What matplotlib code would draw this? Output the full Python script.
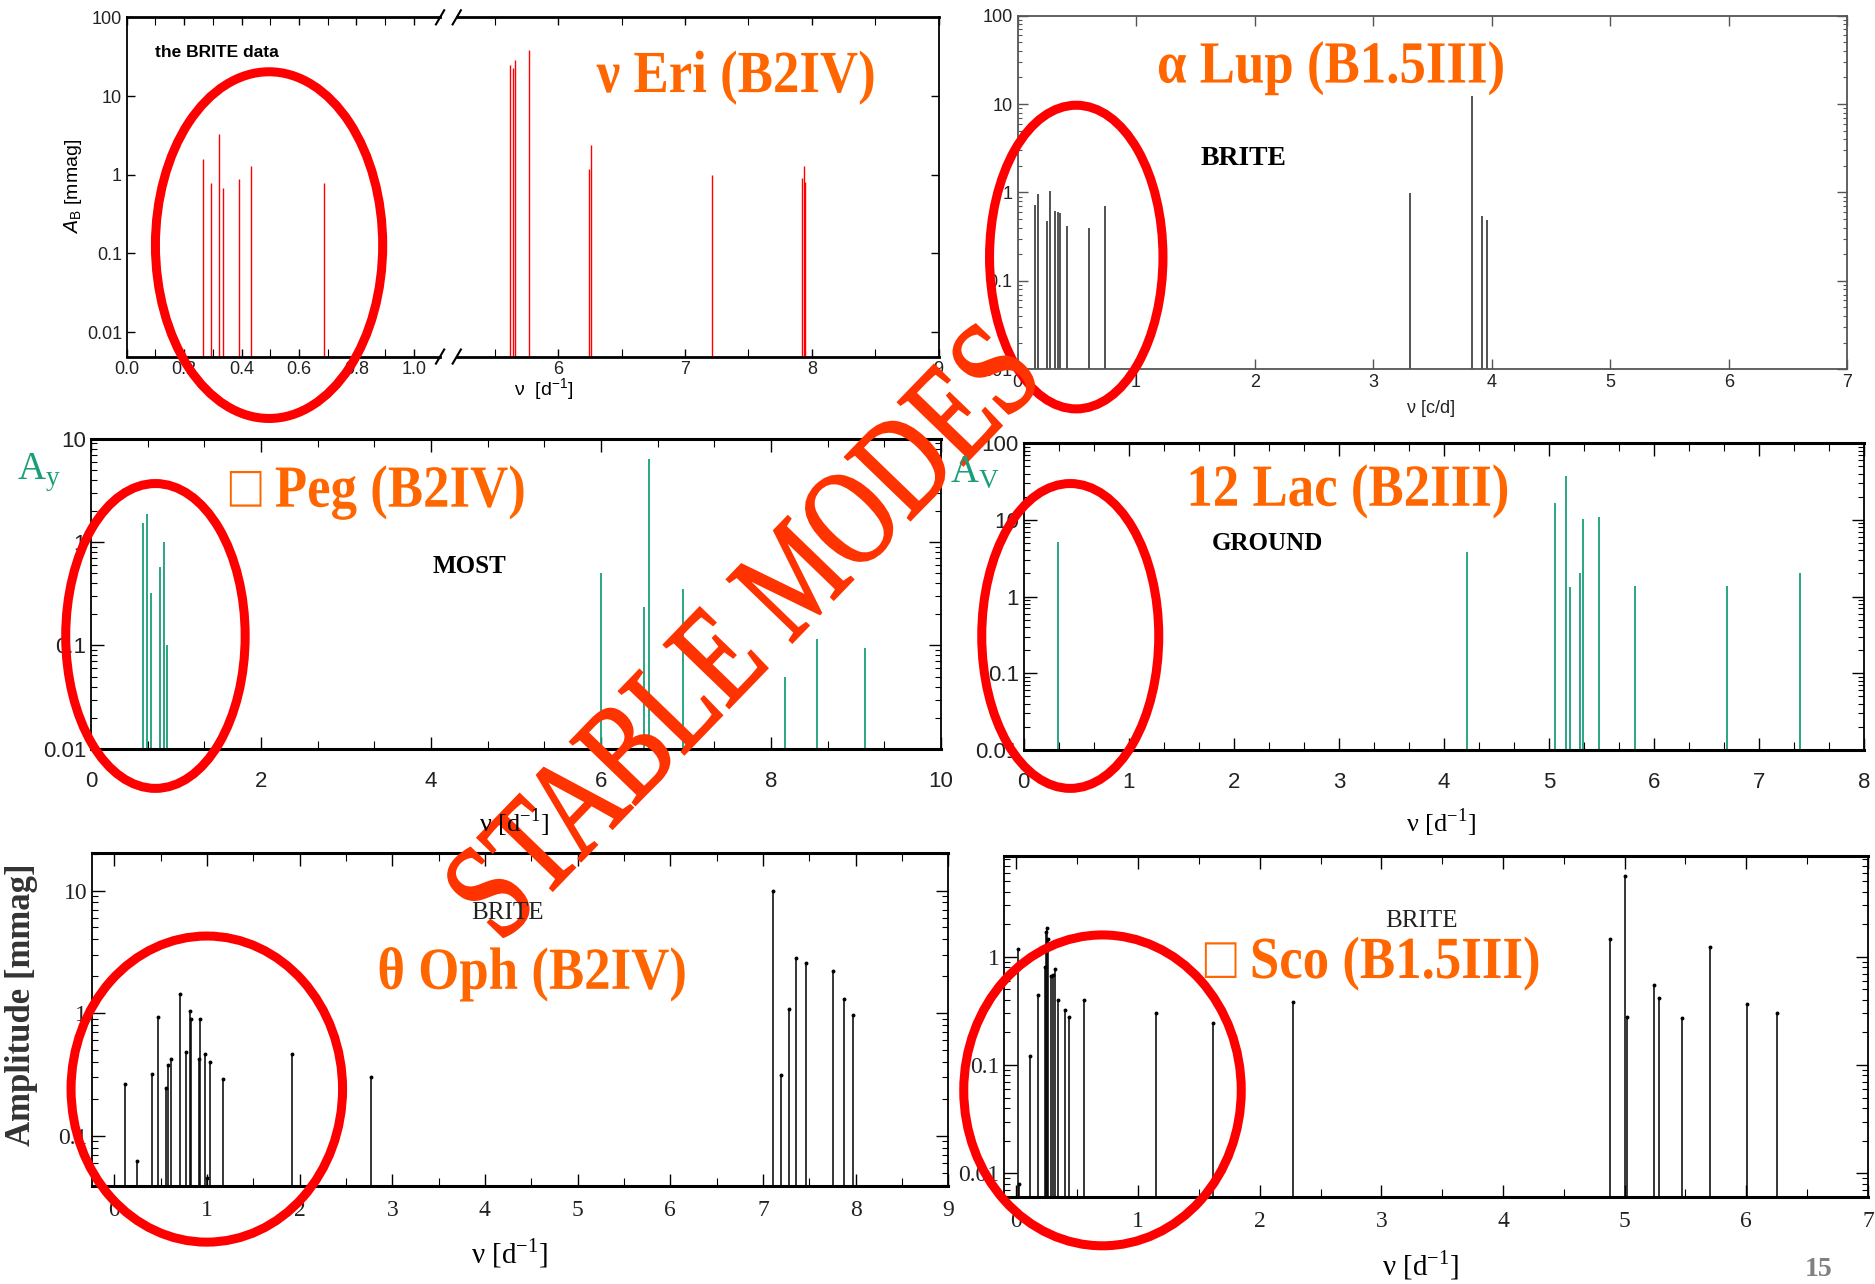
import numpy as np
import matplotlib
matplotlib.use("Agg")
import matplotlib.pyplot as plt
from matplotlib.patches import Ellipse, PathPatch
from matplotlib.lines import Line2D
from matplotlib.textpath import TextPath
from matplotlib.font_manager import FontProperties
from matplotlib.transforms import Affine2D, IdentityTransform
from matplotlib.ticker import MultipleLocator, LogLocator, NullFormatter, FuncFormatter

# nu Eri (BRITE) - low and high frequency ranges of the broken axis
eri_lo_freq = [0.265, 0.295, 0.322, 0.337, 0.392, 0.432, 0.688]
eri_lo_amp = [1.6, 0.78, 3.3, 0.68, 0.89, 1.3, 0.78]
eri_hi_freq = [5.62, 5.64, 5.66, 5.77, 6.245, 6.26, 7.21, 7.92, 7.935, 7.95]
eri_hi_amp = [24.9, 22.5, 28.3, 38.3, 1.19, 2.4, 1.0, 0.9, 1.3, 0.8]

# alpha Lup (BRITE)
lup_freq = [0.15, 0.175, 0.25, 0.275, 0.32, 0.34, 0.36, 0.415, 0.6, 0.735,
            3.31, 3.836, 3.92, 3.96]
lup_amp = [0.73, 0.97, 0.48, 1.05, 0.62, 0.6, 0.59, 0.42, 0.40, 0.71,
           0.98, 12.5, 0.54, 0.49]

# gamma Peg (MOST)
peg_freq = [0.61, 0.66, 0.71, 0.81, 0.86, 0.9, 6.0, 6.5, 6.57, 6.97, 8.17, 8.54, 9.1]
peg_amp = [1.54, 1.88, 0.32, 0.58, 1.01, 0.1, 0.5, 0.235, 6.4, 0.35, 0.049, 0.115, 0.094]

# 12 Lac (ground)
lac_freq = [0.33, 4.22, 5.056, 5.163, 5.197, 5.29, 5.32, 5.478, 5.82, 6.69, 7.39]
lac_amp = [5.2, 3.8, 16.5, 37.5, 1.35, 2.05, 10.3, 11.0, 1.37, 1.37, 2.0]

# theta Oph (BRITE)
oph_freq = [0.12, 0.25, 0.405, 0.47, 0.56, 0.58, 0.61, 0.71, 0.77, 0.82, 0.83,
            0.915, 0.93, 0.975, 1.0, 1.03, 1.17, 1.915, 2.77,
            7.11, 7.2, 7.28, 7.36, 7.46, 7.76, 7.875, 7.97]
oph_amp = [0.265, 0.062, 0.32, 0.93, 0.245, 0.38, 0.42, 1.43, 0.48, 1.04, 0.89,
           0.42, 0.89, 0.46, 0.045, 0.40, 0.29, 0.46, 0.30,
           10.0, 0.31, 1.09, 2.8, 2.55, 2.2, 1.31, 0.97]

# delta Sco (BRITE)
sco_freq = [0.015, 0.025, 0.11, 0.175, 0.233, 0.242, 0.252, 0.262, 0.281, 0.30,
            0.32, 0.34, 0.40, 0.436, 0.557, 1.144, 1.614, 2.27,
            4.876, 5.0, 5.02, 5.24, 5.284, 5.468, 5.705, 6.01, 6.253]
sco_amp = [1.19, 0.008, 0.122, 0.44, 0.81, 1.69, 1.85, 1.45, 0.67, 0.68,
           0.77, 0.40, 0.32, 0.28, 0.40, 0.305, 0.245, 0.38,
           1.47, 5.66, 0.28, 0.55, 0.42, 0.27, 1.23, 0.37, 0.305]

ORANGE = "#ff6600"
TEAL = "#1a9e7a"
SERIF = ["Liberation Serif", "DejaVu Sans"]
SANS = ["Liberation Sans", "DejaVu Sans"]
W, H = 1875, 1284

fmt = FuncFormatter(lambda v, _: "%g" % v)


def log_axes(ax, ylim, family, size, color="black", major_len=6, minor_len=3):
    ax.set_yscale("log")
    ax.set_ylim(*ylim)
    ax.yaxis.set_major_locator(LogLocator(base=10, numticks=12))
    ax.yaxis.set_minor_locator(LogLocator(base=10, subs=np.arange(2, 10), numticks=12))
    ax.yaxis.set_minor_formatter(NullFormatter())
    ax.yaxis.set_major_formatter(fmt)
    ax.tick_params(which="both", direction="in", top=True, right=True,
                   color=color, labelcolor="#222222", labelsize=size,
                   labelfontfamily=family)
    ax.tick_params(which="major", length=major_len, width=1.0)
    ax.tick_params(which="minor", length=minor_len, width=0.8)
    for s in ax.spines.values():
        s.set_color(color)
        s.set_linewidth(1.3)


def narrow_text(fig, x, y, s, size, sx, color, weight="normal", rotation=0, stroke=0):
    """Text drawn as a path, squeezed horizontally by sx, centred on (x, y)."""
    prop = FontProperties(family=SERIF, weight=weight)
    tp = TextPath((0, 0), s, size=size * 100 / 72, prop=prop)
    bb = tp.get_extents()
    tr = (Affine2D().translate(-(bb.x0 + bb.x1) / 2, -(bb.y0 + bb.y1) / 2)
          .scale(sx, 1.0).rotate_deg(rotation).translate(x * W, y * H))
    fig.add_artist(PathPatch(tr.transform_path(tp), facecolor=color,
                             edgecolor=color if stroke else "none", lw=stroke,
                             transform=IdentityTransform(), zorder=3))


fig = plt.figure(figsize=(18.75, 12.84), dpi=100)

# ---- nu Eri: broken x axis ----
ax1a = fig.add_axes([0.0676, 0.7223, 0.2347 - 0.0676, 0.2642])
ax1b = fig.add_axes([0.2436, 0.7223, 0.5006 - 0.2436, 0.2642])
for ax in (ax1a, ax1b):
    log_axes(ax, (0.0049, 100), SANS, 13, major_len=6, minor_len=0)
    ax.spines["top"].set_linewidth(2)
    ax.spines["bottom"].set_linewidth(2)
ax1a.set_xlim(0, 1.092)
ax1a.xaxis.set_major_locator(MultipleLocator(0.2))
ax1a.xaxis.set_minor_locator(MultipleLocator(0.1))
ax1a.xaxis.set_major_formatter(FuncFormatter(lambda v, _: "%.1f" % v))
ax1a.tick_params(which="minor", axis="x", length=6)
ax1a.spines["right"].set_visible(False)
ax1a.tick_params(axis="y", right=False)
ax1b.set_xlim(5.20, 9)
ax1b.xaxis.set_major_locator(MultipleLocator(1))
ax1b.xaxis.set_minor_locator(MultipleLocator(0.5))
ax1b.tick_params(which="minor", axis="x", length=6)
ax1b.spines["left"].set_visible(False)
ax1b.tick_params(axis="y", left=False, labelleft=False)
ax1a.vlines(eri_lo_freq, 0.0049, eri_lo_amp, color="red", lw=1.0)
ax1b.vlines(eri_hi_freq, 0.0049, eri_hi_amp, color="red", lw=1.0)
ax1a.set_ylabel("$\\mathit{A}_{\\mathregular{B}}$ [mmag]", fontsize=14,
                family=SANS, labelpad=2)
fig.text(0.290, 0.6965, "\u03bd  [d$^{\\mathregular{-1}}$]", family=SANS,
         fontsize=14, ha="center", va="center")
fig.text(0.0829, 0.959, "the BRITE data", family=SANS, fontsize=12.5,
         weight="bold", ha="left", va="center")
for xb in (0.2347, 0.2436):
    for yb in (0.9865, 0.7223):
        fig.add_artist(Line2D([xb - 0.0022, xb + 0.0022], [yb - 0.0055, yb + 0.0055],
                              transform=fig.transFigure, color="black", lw=1.5))

# ---- alpha Lup ----
ax2 = fig.add_axes([0.5427, 0.7124, 0.4426, 0.2754])
log_axes(ax2, (0.01, 100), SANS, 13, color="#555555", major_len=7, minor_len=3)
ax2.set_xlim(0, 7)
ax2.xaxis.set_major_locator(MultipleLocator(1))
ax2.vlines(lup_freq, 0.01, lup_amp, color="#444444", lw=1.3)
fig.text(0.7634, 0.6816, "\u03bd [c/d]", family=SANS, fontsize=13,
         ha="center", va="center", color="#222222")
fig.text(0.6633, 0.8762, "BRITE", family=SERIF, fontsize=20, weight="bold",
         ha="center", va="center")

# ---- gamma Peg ----
ax3 = fig.add_axes([0.0485, 0.4168, 0.4534, 0.2415])
log_axes(ax3, (0.01, 10), SANS, 16, major_len=9, minor_len=4)
ax3.set_xlim(0, 10)
ax3.xaxis.set_major_locator(MultipleLocator(2))
ax3.xaxis.set_minor_locator(MultipleLocator(2 / 3))
ax3.tick_params(axis="x", which="minor", length=6)
ax3.tick_params(axis="x", pad=16)
ax3.spines["top"].set_linewidth(2.2)
ax3.spines["bottom"].set_linewidth(2.2)
ax3.vlines(peg_freq, 0.01, peg_amp, color=TEAL, lw=1.3)
fig.text(0.021, 0.6322, "A$_{\\mathregular{y}}$", family=SERIF, fontsize=28,
         color=TEAL, ha="center", va="center")
fig.text(0.2742, 0.3594, "\u03bd [d$^{\\mathregular{-1}}$]", family=SERIF,
         fontsize=19, ha="center", va="center")
fig.text(0.2506, 0.5587, "MOST", family=SERIF, fontsize=18, weight="bold",
         ha="center", va="center")

# ---- 12 Lac ----
ax4 = fig.add_axes([0.5459, 0.416, 0.4484, 0.2388])
log_axes(ax4, (0.01, 100), SANS, 16, major_len=9, minor_len=4)
ax4.set_xlim(0, 8)
ax4.xaxis.set_major_locator(MultipleLocator(1))
ax4.xaxis.set_minor_locator(MultipleLocator(1 / 3))
ax4.tick_params(axis="x", which="minor", length=6)
ax4.tick_params(axis="x", pad=16)
ax4.spines["top"].set_linewidth(2.2)
ax4.spines["bottom"].set_linewidth(2.2)
ax4.vlines(lac_freq, 0.01, lac_amp, color=TEAL, lw=1.3)
fig.text(0.5198, 0.6322, "A$_{\\mathregular{V}}$", family=SERIF, fontsize=28,
         color=TEAL, ha="center", va="center")
fig.text(0.7685, 0.3594, "\u03bd [d$^{\\mathregular{-1}}$]", family=SERIF,
         fontsize=19, ha="center", va="center")
fig.text(0.676, 0.5764, "GROUND", family=SERIF, fontsize=18, weight="bold",
         ha="center", va="center")

# ---- theta Oph ----
ax5 = fig.add_axes([0.0491, 0.076, 0.4566, 0.2596])
log_axes(ax5, (0.0386, 20.2), SERIF, 17, major_len=9, minor_len=4)
ax5.set_xlim(-0.24, 9)
ax5.xaxis.set_major_locator(MultipleLocator(1))
ax5.xaxis.set_minor_locator(MultipleLocator(0.5))
ax5.tick_params(axis="x", which="minor", length=6)
ax5.tick_params(axis="x", pad=10)
ax5.spines["top"].set_linewidth(2.2)
ax5.spines["bottom"].set_linewidth(2.2)
ax5.vlines(oph_freq, 0.0386, oph_amp, color="black", lw=1.1)
ax5.plot(oph_freq, oph_amp, "o", color="black", ms=1.8)
fig.text(0.0115, 0.2179, "Amplitude [mmag]", family=SERIF, fontsize=25,
         weight="bold", rotation=90, ha="center", va="center", color="#333333")
fig.text(0.2717, 0.0242, "\u03bd [d$^{\\mathregular{-1}}$]", family=SERIF,
         fontsize=21, ha="center", va="center")
fig.text(0.2704, 0.2886, "BRITE", family=SERIF, fontsize=18,
         ha="center", va="center", color="#222222")

# ---- delta Sco ----
ax6 = fig.add_axes([0.5356, 0.0677, 0.4606, 0.2653])
log_axes(ax6, (0.006, 8.5), SERIF, 17, major_len=9, minor_len=4)
ax6.set_xlim(-0.1, 7.0)
ax6.xaxis.set_major_locator(MultipleLocator(1))
ax6.xaxis.set_minor_locator(MultipleLocator(0.5))
ax6.tick_params(axis="x", which="minor", length=6)
ax6.tick_params(axis="x", pad=10)
ax6.spines["top"].set_linewidth(2.2)
ax6.spines["bottom"].set_linewidth(2.2)
ax6.vlines(sco_freq, 0.006, sco_amp, color="black", lw=1.1)
ax6.plot(sco_freq, sco_amp, "o", color="black", ms=1.8)
fig.text(0.7577, 0.0149, "\u03bd [d$^{\\mathregular{-1}}$]", family=SERIF,
         fontsize=21, ha="center", va="center")
fig.text(0.7583, 0.283, "BRITE", family=SERIF, fontsize=18,
         ha="center", va="center", color="#222222")
fig.text(0.97, 0.0112, "15", family=SERIF, fontsize=20, weight="bold",
         ha="center", va="center", color="#808080")

# star names
titles = [
    (0.392, 0.9395, "\u03bd Eri (B2IV)"),
    (0.7098, 0.9469, "\u03b1 Lup (B1.5III)"),
    (0.2009, 0.6164, "\u25a1 Peg (B2IV)"),
    (0.7194, 0.6173, "12 Lac (B2III)"),
    (0.2838, 0.2412, "\u03b8 Oph (B2IV)"),
    (0.7315, 0.2495, "\u25a1 Sco (B1.5III)"),
]
for x, y, s in titles:
    narrow_text(fig, x, y, s, 43, 0.885, ORANGE, weight="bold")

# red rings around the low-frequency groups
rings = [
    (0.1435, 0.8091, 0.1212, 0.2700),
    (0.5740, 0.7998, 0.0925, 0.2365),
    (0.0829, 0.5047, 0.0957, 0.2374),
    (0.5708, 0.5047, 0.0944, 0.2374),
    (0.1103, 0.1518, 0.1448, 0.2384),
    (0.5880, 0.1508, 0.1480, 0.2421),
]
for cx, cy, w, h in rings:
    fig.add_artist(Ellipse((cx, cy), w, h, transform=fig.transFigure,
                           fill=False, edgecolor="red", lw=6.5, zorder=2))

narrow_text(fig, 0.3954, 0.5093, "STABLE MODES", 100, 0.76, "#ff3300",
            rotation=46, stroke=1.5)

fig.savefig("out.png", dpi=100)
